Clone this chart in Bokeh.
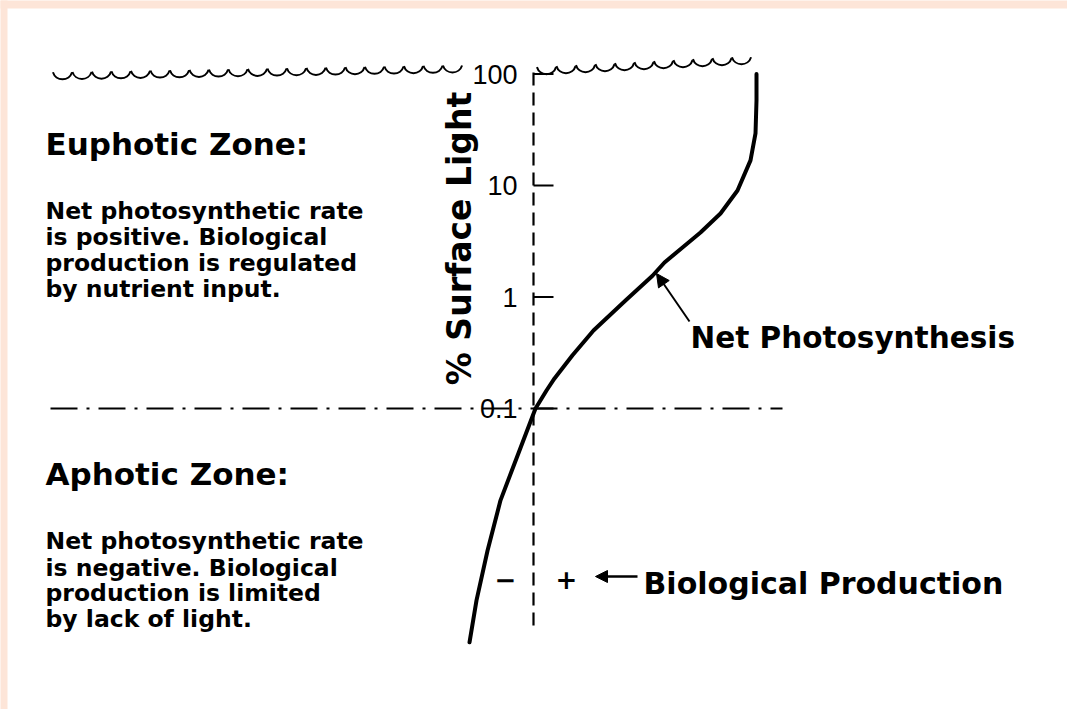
import numpy as np
from bokeh.plotting import figure
from bokeh.models import Range1d, Arrow, NormalHead
from bokeh.core.properties import value
from bokeh.embed import file_html
from bokeh.resources import INLINE

# ---------------- data ----------------
surface_light_pct = [100, 57.9, 29.3, 16.8, 9.02, 5.61, 3.79, 2.78, 2.04, 1.55,
                     0.93, 0.50, 0.30, 0.186, 0.145, 0.1, 0.042, 0.015, 0.0053,
                     0.0019, 0.0008]
net_photosynthesis = [2.23, 2.23, 2.22, 2.17, 2.04, 1.87, 1.67, 1.49, 1.31, 1.19,
                      0.92, 0.60, 0.39, 0.21, 0.13, 0.02, -0.14, -0.33, -0.46,
                      -0.57, -0.64]
tick_values = [100, 10, 1, 0.1]
tick_labels = ["100", "10", "1", "0.1"]
euphotic_lines = ["Net photosynthetic rate", "is positive.  Biological",
                  "production is regulated", "by nutrient input."]
aphotic_lines = ["Net photosynthetic rate", "is negative.  Biological",
                 "production is limited", "by lack of light."]

# ---------------- layout helpers (page pixels -> data) ----------------
PAGE_W, PAGE_H = 1067, 709
LEFT, TOP = 7, 8       # peach border around the scanned picture
PEACH = "#fde5d8"
AX_PX = 533.0          # page x of the vertical axis (net rate = 0)
Y100_PX = 73.5         # page y of the 100 % tick
DECADE_PX = 111.5      # pixels per decade


def X(px):
    return (px - AX_PX) / 100.0


def Y(py):
    return 10 ** (2 + (Y100_PX - py) / DECADE_PX)


p = figure(width=PAGE_W, height=PAGE_H, output_backend="svg", toolbar_location=None,
           x_range=Range1d(X(0), X(PAGE_W)), y_range=Range1d(Y(PAGE_H), Y(0)),
           x_axis_type="linear", y_axis_type="log",
           x_axis_location=None, y_axis_location=None, min_border=0,
           min_border_left=0, min_border_top=0, min_border_right=0,
           min_border_bottom=0,
           background_fill_color="white", border_fill_color="white",
           outline_line_color=None)
p.grid.visible = False

# peach frame of the scanned page (top and left strips)
p.quad(left=[X(-5), X(-5)], right=[X(PAGE_W + 5), X(LEFT)],
       bottom=[Y(TOP), Y(PAGE_H + 5)], top=[Y(-5), Y(-5)],
       fill_color=PEACH, line_color=None)

BOLD = dict(text_font=value("DejaVu Sans"), text_font_style="bold", text_color="black")

# surface waves (decoration)
lx = np.arange(62, 455, 19.5)
ly = 72 - (lx - 52) * (7.0 / 400)
p.arc(x=X(lx), y=Y(ly - 3), radius=10, radius_units="screen",
      start_angle=np.pi + 0.3, end_angle=2 * np.pi - 0.3, direction="anticlock",
      line_color="black", line_width=2)
rx = np.arange(546, 755, 19.5)
ry = 67 - (rx - 540) * (11.0 / 215)
p.arc(x=X(rx), y=Y(ry - 3), radius=10, radius_units="screen",
      start_angle=np.pi + 0.3, end_angle=2 * np.pi - 0.3, direction="anticlock",
      line_color="black", line_width=2)

# vertical dashed axis
p.line(x=[0, 0], y=[Y(72), Y(632)], line_color="black", line_width=2.2, line_dash="13 7")
# ticks
p.segment(x0=[0] * len(tick_values), y0=tick_values, x1=[X(553)] * len(tick_values),
          y1=tick_values, line_color="black", line_width=2)
p.text(x=[X(517)] * len(tick_values), y=tick_values, text=tick_labels,
       text_font=value("Liberation Sans"), text_font_size="27px", text_align="right",
       text_baseline="middle", text_color="black")

# euphotic / aphotic boundary (0.1 %)
p.line(x=[X(50), X(782)], y=[0.1, 0.1], line_color="black", line_width=2,
       line_dash="27 9 3 9")

# net photosynthesis curve
p.line(x=net_photosynthesis, y=surface_light_pct, line_color="black", line_width=4,
       line_join="round", line_cap="round")

# axis label
p.text(x=[X(459)], y=[Y(238)], text=["% Surface Light"], angle=np.pi / 2,
       text_font_size="33px", text_align="center", text_baseline="alphabetic", **BOLD)

# zone titles and descriptions
p.text(x=[X(45)], y=[Y(143)], text=["Euphotic Zone:"], text_font_size="31px",
       text_baseline="alphabetic", **BOLD)
p.text(x=[X(45)] * 4, y=[Y(v) for v in (210, 236, 262, 288)], text=euphotic_lines,
       text_font_size="23.5px", text_baseline="alphabetic", **BOLD)
p.text(x=[X(45)], y=[Y(473)], text=["Aphotic Zone:"], text_font_size="31px",
       text_baseline="alphabetic", **BOLD)
p.text(x=[X(45)] * 4, y=[Y(v) for v in (540, 567, 592, 618)], text=aphotic_lines,
       text_font_size="23.5px", text_baseline="alphabetic", **BOLD)

# curve label and arrow
p.text(x=[X(690)], y=[Y(337)], text=["Net Photosynthesis"], text_font_size="29.5px",
       text_baseline="alphabetic", **BOLD)
p.add_layout(Arrow(end=NormalHead(size=13, fill_color="black", line_color="black"),
                   x_start=X(689), y_start=Y(321), x_end=X(656), y_end=Y(273),
                   line_color="black", line_width=2))

# biological production sign
p.text(x=[X(505), X(566)], y=[Y(578), Y(578)], text=["\u2212", "+"],
       text_font_size="26px", text_align="center", text_baseline="middle", **BOLD)
p.add_layout(Arrow(end=NormalHead(size=12, fill_color="black", line_color="black"),
                   x_start=X(637), y_start=Y(576), x_end=X(595), y_end=Y(576),
                   line_color="black", line_width=2.5))
p.text(x=[X(643)], y=[Y(583)], text=["Biological Production"], text_font_size="30px",
       text_baseline="alphabetic", **BOLD)

open("out.html", "w").write(file_html(p, INLINE))
